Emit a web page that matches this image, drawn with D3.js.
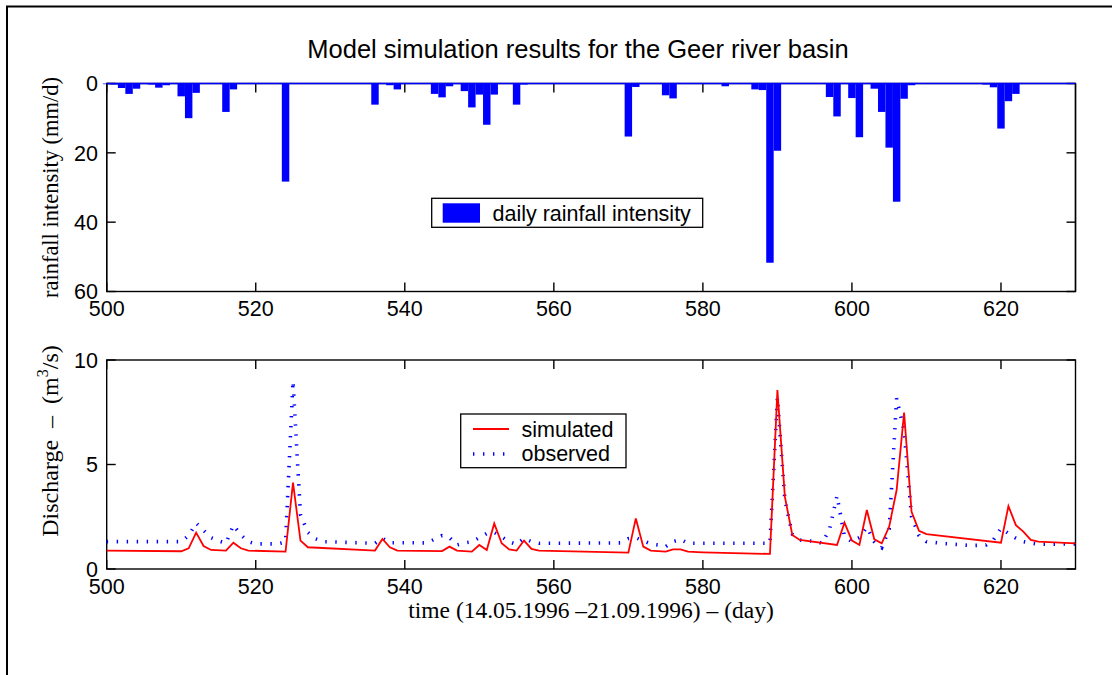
<!DOCTYPE html>
<html><head><meta charset="utf-8">
<script src="https://cdn.jsdelivr.net/npm/d3@7"></script>
<style>body{margin:0;background:#fff;} svg{display:block}</style>
</head><body>
<svg id="chart" width="1112" height="675"></svg>
<script>
// ---- data ----
const rainDays   = [500,501,502,503,504,506,507,508,510,511,512,516,517,524,536,538,539,544,545,546,548,549,550,551,552,555,556,570,571,575,576,583,587,588,589,590,597,598,600,601,603,604,605,606,607,608,618,619,620,621,622];
const rainValues = [0.2,0.3,1.3,3.0,1.5,0.3,1.2,0.5,3.7,10.0,2.7,8.2,1.7,28.3,6.1,0.5,1.7,3.0,4.0,0.8,2.2,6.9,3.2,11.9,3.2,6.1,0.3,15.3,1.0,3.4,4.3,0.8,1.7,1.9,51.7,19.4,3.9,9.5,4.2,15.5,1.5,8.2,18.5,34.1,4.4,0.5,0.3,1.1,13.0,5.1,3.0];

const simDays   = [500,510,511,512,513,514,516,517,518,519,524,525,526,527,536,537,538,539,545,546,547,549,550,551,552,553,554,555,556,557,558,570,571,572,573,575,576,577,578,580,589,590,591,592,593,598,599,600,601,602,603,604,605,606,607,608,609,610,620,621,622,623,624,625,630];
const simValues = [0.88,0.85,0.99,1.74,1.10,0.91,0.88,1.26,0.99,0.88,0.83,4.13,1.36,1.04,0.88,1.44,1.04,0.88,0.86,1.07,0.88,0.83,1.15,0.91,2.18,1.23,0.94,0.88,1.36,0.96,0.88,0.78,2.42,1.07,0.88,0.83,0.94,0.94,0.83,0.80,0.72,8.56,3.46,1.63,1.39,1.15,2.22,1.36,1.15,2.82,1.42,1.23,2.03,3.78,7.48,2.74,1.83,1.67,1.26,3.01,2.10,1.79,1.39,1.31,1.23];

const obsDays   = [500,510,511,512,513,514,515,516,517,518,519,520,523,524,525,526,527,528,529,536,537,538,543,545,546,547,548,549,550,551,552,553,554,555,556,557,558,569,570,571,572,573,574,575,576,577,578,589,590,591,592,593,594,595,596,597,598,599,600,601,602,603,604,605,606,607,608,609,610,612,616,618,619,620,621,622,623,625,630];
const obsValues = [1.31,1.31,1.60,2.20,1.85,1.50,1.35,1.23,2.10,1.63,1.31,1.20,1.20,1.30,9.00,2.60,1.75,1.45,1.31,1.23,1.47,1.26,1.25,1.60,1.50,1.15,1.25,1.30,1.50,1.70,1.75,1.55,1.30,1.18,1.47,1.31,1.23,1.25,1.45,1.50,1.35,1.20,1.15,1.07,1.31,1.42,1.23,1.23,8.20,3.30,1.66,1.39,1.34,1.34,1.23,1.90,3.50,1.55,1.31,1.50,2.00,1.31,1.02,1.90,8.17,6.60,2.50,1.60,1.31,1.23,1.12,1.15,1.40,1.95,1.70,1.47,1.31,1.18,1.20];

const xTicks    = [500,520,540,560,580,600,620];
const rainTicks = [0,20,40,60];
const qTicks    = [0,5,10];

const titleText  = "Model simulation results for the Geer river basin";
const rainLabel  = "rainfall intensity (mm/d)";
const xLabelText = "time (14.05.1996 \u201321.09.1996) \u2013 (day)";
const rainLegend = "daily rainfall intensity";
const simLegend  = "simulated";
const obsLegend  = "observed";

// ---- layout ----
const svg = d3.select("#chart");
const SANS = "'Liberation Sans', Arial, Helvetica, sans-serif";
const SERIF = "'Liberation Serif', 'Times New Roman', serif";
const L = 106.7, R = 1075.5;
const top1 = 83.5, bot1 = 291.5;
const top2 = 360, bot2 = 569;
const TICK = 9;

svg.append("rect").attr("width",1112).attr("height",675).attr("fill","#fff");
// outer frame
svg.append("path").attr("d","M7,690 V6.5 H1120").attr("fill","none").attr("stroke","#000").attr("stroke-width",2);

svg.append("text").attr("x",578).attr("y",58).attr("text-anchor","middle")
  .attr("font-family",SANS).attr("font-size",25.5).text(titleText);

const x = d3.scaleLinear().domain([500,630]).range([L,R]);
const yR = d3.scaleLinear().domain([0,60]).range([top1,bot1]);
const yQ = d3.scaleLinear().domain([0,10]).range([bot2,top2]);

function frame(yTop, yBot, yScale, yTicks){
  const g = svg.append("g");
  g.append("rect").attr("x",L).attr("y",yTop).attr("width",R-L).attr("height",yBot-yTop)
    .attr("fill","none").attr("stroke","#000").attr("stroke-width",1.4);
  xTicks.forEach(t=>{
    g.append("line").attr("x1",x(t)).attr("x2",x(t)).attr("y1",yBot).attr("y2",yBot-TICK).attr("stroke","#000").attr("stroke-width",1.4);
    g.append("line").attr("x1",x(t)).attr("x2",x(t)).attr("y1",yTop).attr("y2",yTop+TICK).attr("stroke","#000").attr("stroke-width",1.4);
    g.append("text").attr("x",x(t)).attr("y",yBot+24.5).attr("text-anchor","middle")
      .attr("font-family",SANS).attr("font-size",21.5).text(d3.format("d")(t));
  });
  yTicks.forEach(t=>{
    const yy = yScale(t);
    g.append("line").attr("x1",L).attr("x2",L+TICK).attr("y1",yy).attr("y2",yy).attr("stroke","#000").attr("stroke-width",1.4);
    g.append("line").attr("x1",R).attr("x2",R-TICK).attr("y1",yy).attr("y2",yy).attr("stroke","#000").attr("stroke-width",1.4);
    g.append("text").attr("x",98).attr("y",yy+7.7).attr("text-anchor","end")
      .attr("font-family",SANS).attr("font-size",21.5).text(t);
  });
  return g;
}

// ---- top: rainfall ----
frame(top1, bot1, yR, rainTicks);
const rain = rainDays.map((d,i)=>({day:d, v:rainValues[i]}));
svg.append("g").selectAll("rect").data(rain).join("rect")
  .attr("x",d=>x(d.day-0.5)).attr("width",d=>x(d.day+0.5)-x(d.day-0.5))
  .attr("y",yR(0)).attr("height",d=>yR(d.v)-yR(0)).attr("fill","#0000ff");
svg.append("line").attr("x1",L).attr("x2",R).attr("y1",yR(0)).attr("y2",yR(0)).attr("stroke","#0000ff").attr("stroke-width",1.6);
svg.append("line").attr("x1",L).attr("x2",L).attr("y1",top1).attr("y2",bot1).attr("stroke","#000").attr("stroke-width",1.4);
svg.append("line").attr("x1",R).attr("x2",R).attr("y1",top1).attr("y2",bot1).attr("stroke","#000").attr("stroke-width",1.4);

svg.append("text").attr("transform",`translate(57.5,${(top1+bot1)/2}) rotate(-90)`).attr("text-anchor","middle")
  .attr("font-family",SERIF).attr("font-size",22.5).text(rainLabel);

// legend top
const lg1 = svg.append("g");
lg1.append("rect").attr("x",431.7).attr("y",198.3).attr("width",271).attr("height",29).attr("fill","#fff").attr("stroke","#000").attr("stroke-width",1.3);
lg1.append("rect").attr("x",442.7).attr("y",203.3).attr("width",37.3).attr("height",19.4).attr("fill","#0000ff");
lg1.append("text").attr("x",492.5).attr("y",221.2).attr("font-family",SANS).attr("font-size",21.5).text(rainLegend);

// ---- bottom: discharge ----
frame(top2, bot2, yQ, qTicks);
const line = d3.line().x(d=>x(d[0])).y(d=>yQ(d[1]));
const simPts = simDays.map((d,i)=>[d,simValues[i]]);
const obsPts = obsDays.map((d,i)=>[d,obsValues[i]]);
svg.append("path").attr("d",line(obsPts)).attr("fill","none").attr("stroke","#0000ff")
  .attr("stroke-width",3.6).attr("stroke-dasharray","1.4,8.6");
svg.append("path").attr("d",line(simPts)).attr("fill","none").attr("stroke","#ff0000")
  .attr("stroke-width",1.8).attr("stroke-linejoin","miter");

const ql = svg.append("text").attr("transform",`translate(57.5,441) rotate(-90)`).attr("text-anchor","middle")
  .attr("font-family",SERIF).attr("font-size",24).style("white-space","pre");
ql.append("tspan").text("Discharge  \u2013  (m");
ql.append("tspan").attr("dy",-10).attr("font-size",16).text("3");
ql.append("tspan").attr("dy",10).text("/s)");

svg.append("text").attr("x",591).attr("y",618).attr("text-anchor","middle")
  .attr("font-family",SERIF).attr("font-size",23.5).text(xLabelText);

// legend bottom
const lg2 = svg.append("g");
lg2.append("rect").attr("x",460.7).attr("y",414).attr("width",165.3).attr("height",53.7).attr("fill","#fff").attr("stroke","#000").attr("stroke-width",1.3);
lg2.append("line").attr("x1",473).attr("x2",509).attr("y1",429).attr("y2",429).attr("stroke","#ff0000").attr("stroke-width",1.8);
lg2.append("line").attr("x1",473).attr("x2",509).attr("y1",454).attr("y2",454).attr("stroke","#0000ff").attr("stroke-width",3.6).attr("stroke-dasharray","1.4,8.6");
lg2.append("text").attr("x",521.5).attr("y",436.5).attr("font-family",SANS).attr("font-size",21.5).text(simLegend);
lg2.append("text").attr("x",521.5).attr("y",460.5).attr("font-family",SANS).attr("font-size",21.5).text(obsLegend);
</script>
</body></html>
